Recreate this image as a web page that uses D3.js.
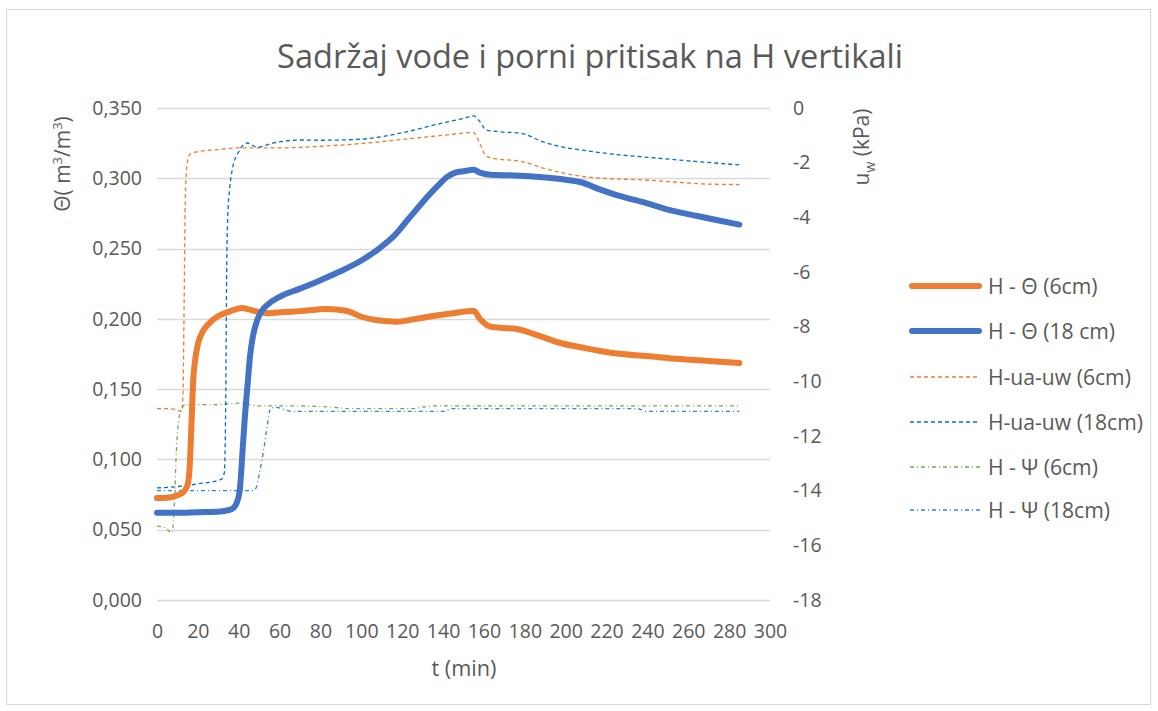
<!DOCTYPE html>
<html>
<head>
<meta charset="utf-8">
<script src="https://cdn.jsdelivr.net/npm/d3@7"></script>
<style>
  body { margin: 0; background: #fff; }
  text { font-family: "Open Sans", Lato, "DejaVu Sans", sans-serif; fill: #595959; }
</style>
</head>
<body>
<svg id="chart" width="1158" height="711"></svg>
<script>
// Axis ticks
const timeTicks = [0, 20, 40, 60, 80, 100, 120, 140, 160, 180, 200, 220, 240, 260, 280, 300];
const thetaTicks = [0, 0.05, 0.10, 0.15, 0.20, 0.25, 0.30, 0.35];
const pressureTicks = [0, -2, -4, -6, -8, -10, -12, -14, -16, -18];

// H - Θ (6cm): volumetric water content, left axis
const theta6Time = [0, 5, 10, 13, 15, 16, 17, 17.7, 18.6, 20, 22, 25, 30, 35, 41.6, 48, 54, 62, 70, 83, 93, 100, 108, 117.5, 125, 135, 145, 155, 158, 163, 170, 176, 185, 197, 210, 223, 240, 256, 270, 285];
const theta6Value = [0.0725, 0.0728, 0.0745, 0.077, 0.082, 0.095, 0.13, 0.156, 0.17, 0.182, 0.19, 0.196, 0.202, 0.205, 0.2077, 0.2055, 0.204, 0.2048, 0.2055, 0.207, 0.2056, 0.2015, 0.199, 0.198, 0.1995, 0.202, 0.204, 0.2058, 0.2, 0.1945, 0.1935, 0.1928, 0.189, 0.183, 0.179, 0.1757, 0.1735, 0.1714, 0.17, 0.1686];

// H - Θ (18 cm): volumetric water content, left axis
const theta18Time = [0, 10, 20, 31, 35, 37, 39, 40.5, 42, 43, 44.5, 45.5, 47, 49, 51, 54, 60, 70, 80, 90, 100, 109, 116, 123, 130, 137, 142, 146, 150, 155, 158, 163, 175, 190, 200, 208, 215, 225, 238, 252, 265, 275, 285];
const theta18Value = [0.062, 0.062, 0.0625, 0.063, 0.064, 0.065, 0.069, 0.078, 0.109, 0.13, 0.156, 0.173, 0.188, 0.199, 0.205, 0.21, 0.2157, 0.2215, 0.2275, 0.234, 0.2415, 0.2504, 0.259, 0.271, 0.283, 0.294, 0.301, 0.304, 0.305, 0.306, 0.304, 0.3025, 0.302, 0.3005, 0.299, 0.297, 0.293, 0.288, 0.283, 0.277, 0.273, 0.27, 0.267];

// H-ua-uw (6cm): matric suction, right axis (kPa)
const suction6Time = [0, 5, 10, 12, 12.7, 13.3, 13.8, 14.5, 16, 20, 30, 40, 60, 80, 100, 120, 140, 155, 158, 161, 165, 178, 189, 200, 208, 220, 238, 255, 268, 285];
const suction6Value = [-11.0, -11.0, -11.05, -11.1, -10.5, -7, -3.5, -2.2, -1.7, -1.6, -1.52, -1.46, -1.46, -1.4, -1.3, -1.15, -1.0, -0.9, -1.3, -1.75, -1.85, -1.95, -2.2, -2.4, -2.5, -2.58, -2.63, -2.72, -2.78, -2.8];

// H-ua-uw (18cm): matric suction, right axis (kPa)
const suction18Time = [0, 10, 20, 31, 32, 33, 33.6, 34.1, 34.6, 35.5, 37, 40, 44, 49, 57, 70, 80, 100, 119, 138, 150, 155, 158, 161, 168, 178, 189, 200, 208, 222, 238, 255, 266, 285];
const suction18Value = [-13.9, -13.85, -13.75, -13.6, -13.55, -13.3, -11, -6, -4, -3, -2.2, -1.6, -1.28, -1.43, -1.28, -1.17, -1.18, -1.14, -0.92, -0.58, -0.38, -0.29, -0.5, -0.8, -0.87, -0.92, -1.24, -1.45, -1.54, -1.68, -1.79, -1.9, -1.97, -2.08];

// H - Ψ (6cm): pore pressure, right axis (kPa)
const psi6Time = [0, 4, 7.3, 8.5, 9.5, 10.5, 12, 14, 20, 30, 40, 50, 60, 70, 86, 95, 110, 124, 135, 150, 170, 200, 230, 260, 285];
const psi6Value = [-15.3, -15.35, -15.55, -14.5, -12.5, -11.5, -11.0, -10.85, -10.85, -10.85, -10.8, -10.9, -10.9, -10.9, -10.95, -11.0, -11.0, -11.0, -10.9, -10.9, -10.9, -10.9, -10.9, -10.9, -10.9];

// H - Ψ (18cm): pore pressure, right axis (kPa)
const psi18Time = [0, 10, 20, 30, 40, 47, 48.5, 50, 52, 54, 55.5, 58, 66, 100, 140, 145, 190, 235, 240, 285];
const psi18Value = [-14.0, -14.0, -14.0, -14.0, -14.0, -14.0, -13.9, -13.4, -12.6, -11.6, -11.0, -10.95, -11.1, -11.1, -11.1, -11.0, -11.0, -11.0, -11.1, -11.1];

const seriesNames = ["H - Θ (6cm)", "H - Θ (18 cm)", "H-ua-uw (6cm)", "H-ua-uw (18cm)", "H - Ψ (6cm)", "H - Ψ (18cm)"];

const svg = d3.select("#chart");

// scale a text's font size so it spans the given width
function fitWidth(sel, width) {
  const node = sel.node();
  const base = parseFloat(sel.style("font-size"));
  const len = node.getComputedTextLength();
  if (len > 0) sel.style("font-size", (base * width / len).toFixed(2) + "px");
  return sel;
}

// outer chart border
svg.append("rect").attr("x", 6.5).attr("y", 9.5).attr("width", 1144).attr("height", 695)
  .attr("fill", "#fff").attr("stroke", "#d9d9d9").attr("stroke-width", 1);

const x = d3.scaleLinear().domain([0, 300]).range([157, 770]);
const yL = d3.scaleLinear().domain([0, 0.35]).range([600, 108]);
const yR = d3.scaleLinear().domain([-18, 0]).range([600, 108]);

// horizontal gridlines
svg.append("g").selectAll("line").data(thetaTicks).join("line")
  .attr("x1", x(0)).attr("x2", x(300))
  .attr("y1", d => Math.round(yL(d)) + 0.5).attr("y2", d => Math.round(yL(d)) + 0.5)
  .attr("stroke", "#d9d9d9").attr("stroke-width", 1.3);

const comma = f => d => d3.format(f)(d).replace(".", ",");

const leftAxis = svg.append("g").attr("transform", `translate(${x(0)},0)`)
  .call(d3.axisLeft(yL).tickValues(thetaTicks).tickFormat(comma(".3f")).tickSize(0).tickPadding(15));
const rightAxis = svg.append("g").attr("transform", `translate(${x(300)},0)`)
  .call(d3.axisRight(yR).tickValues(pressureTicks).tickFormat(d => String(d)).tickSize(0).tickPadding(23));
const bottomAxis = svg.append("g").attr("transform", `translate(0,${yL(0)})`)
  .call(d3.axisBottom(x).tickValues(timeTicks).tickFormat(d => String(d)).tickSize(0).tickPadding(24));
[leftAxis, rightAxis, bottomAxis].forEach(g => {
  g.select(".domain").remove();
  g.selectAll("text").style("font-size", "19.5px").attr("fill", "#595959")
    .style("font-family", "'Open Sans', Lato, sans-serif");
});
rightAxis.selectAll("text").style("text-anchor", "start");

// titles
fitWidth(svg.append("text").attr("x", 590).attr("y", 68).attr("text-anchor", "middle")
  .style("font-size", "28px").text("Sadržaj vode i porni pritisak na H vertikali"), 626);

fitWidth(svg.append("text").attr("x", 464).attr("y", 676).attr("text-anchor", "middle")
  .style("font-size", "20px").text("t (min)"), 65);

const leftTitle = svg.append("text").attr("transform", "translate(70,164) rotate(-90)")
  .attr("text-anchor", "middle").style("font-size", "21px");
leftTitle.append("tspan").text("Θ( m");
leftTitle.append("tspan").attr("dy", -8).style("font-size", "13px").text("3");
leftTitle.append("tspan").attr("dy", 8).text("/m");
leftTitle.append("tspan").attr("dy", -8).style("font-size", "13px").text("3");
leftTitle.append("tspan").attr("dy", 8).text(")");

const rightTitle = svg.append("text").attr("transform", "translate(869,147) rotate(-90)")
  .attr("text-anchor", "middle").style("font-size", "21px");
rightTitle.append("tspan").text("u");
rightTitle.append("tspan").attr("dy", 6).style("font-size", "14px").text("w");
rightTitle.append("tspan").attr("dy", -6).text(" (kPa)");

// series
const zip = (t, v) => t.map((d, i) => ({ t: d, v: v[i] }));
const lineL = d3.line().x(d => x(d.t)).y(d => yL(d.v)).curve(d3.curveMonotoneX);
const lineR = d3.line().x(d => x(d.t)).y(d => yR(d.v)).curve(d3.curveMonotoneX);

const series = [
  { data: zip(psi6Time, psi6Value), gen: lineR, color: "#70AD47", width: 1.3, dash: "4,3,1,3" },
  { data: zip(psi18Time, psi18Value), gen: lineR, color: "#2E86D1", width: 1.3, dash: "4,3,1,3" },
  { data: zip(suction6Time, suction6Value), gen: lineR, color: "#ED7D31", width: 1.3, dash: "4,3" },
  { data: zip(suction18Time, suction18Value), gen: lineR, color: "#0070C0", width: 1.3, dash: "4,3" },
  { data: zip(theta6Time, theta6Value), gen: lineL, color: "#ED7D31", width: 6, dash: null },
  { data: zip(theta18Time, theta18Value), gen: lineL, color: "#4472C4", width: 6, dash: null }
];

svg.append("g").selectAll("path").data(series).join("path")
  .attr("d", s => s.gen(s.data))
  .attr("fill", "none")
  .attr("stroke", s => s.color)
  .attr("stroke-width", s => s.width)
  .attr("stroke-dasharray", s => s.dash)
  .attr("stroke-linecap", s => s.dash ? "butt" : "round")
  .attr("stroke-linejoin", "round");

// legend
const legendStyles = [
  { color: "#ED7D31", width: 6, dash: null },
  { color: "#4472C4", width: 6, dash: null },
  { color: "#ED7D31", width: 1.3, dash: "4,3" },
  { color: "#0070C0", width: 1.3, dash: "4,3" },
  { color: "#70AD47", width: 1.3, dash: "4,3,1,3" },
  { color: "#2E86D1", width: 1.3, dash: "4,3,1,3" }
];
const legendY = [286, 331, 377, 422, 467, 510];
const legend = svg.append("g").selectAll("g").data(seriesNames).join("g")
  .attr("transform", (d, i) => `translate(0,${legendY[i]})`);
legend.append("line").attr("x1", (d, i) => legendStyles[i].dash ? 910 : 912)
  .attr("x2", (d, i) => legendStyles[i].dash ? 980 : 979)
  .attr("stroke", (d, i) => legendStyles[i].color)
  .attr("stroke-width", (d, i) => legendStyles[i].width)
  .attr("stroke-dasharray", (d, i) => legendStyles[i].dash)
  .attr("stroke-linecap", (d, i) => legendStyles[i].dash ? "butt" : "round");
const legendText = legend.append("text").attr("x", 988).attr("dy", "0.36em").style("font-size", "18px").text(d => d);
// size all legend labels together so the longest one ends at the chart edge
const longest = d3.max(legendText.nodes(), n => n.getComputedTextLength());
legendText.style("font-size", (18 * 155 / longest).toFixed(2) + "px");
</script>
</body>
</html>
